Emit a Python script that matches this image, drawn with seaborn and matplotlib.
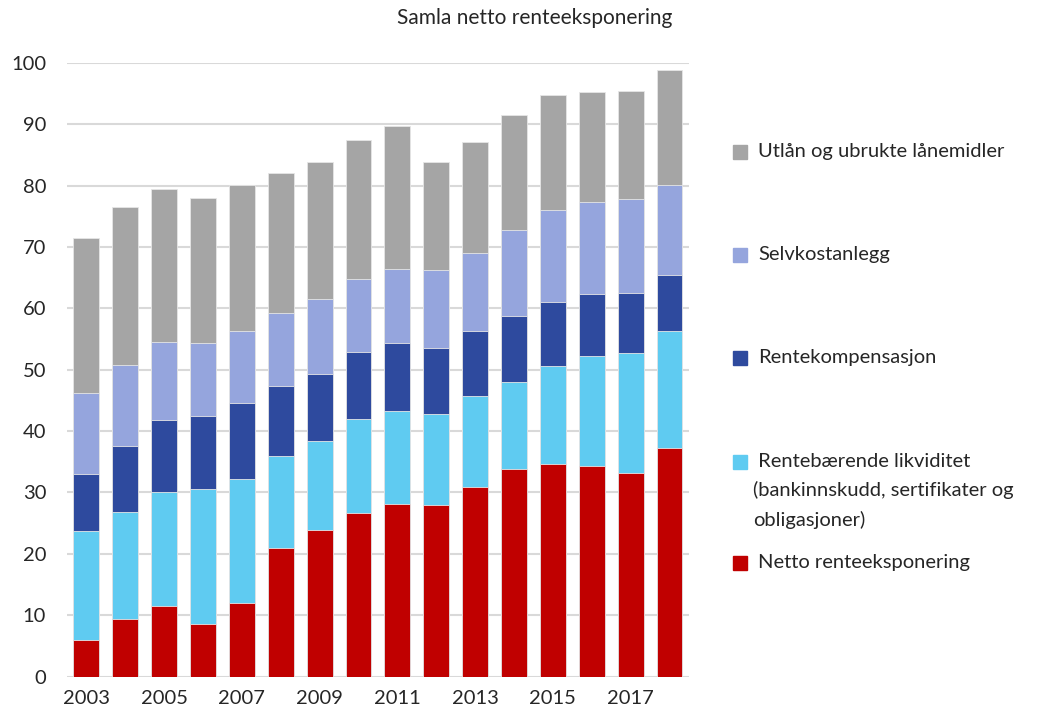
import numpy as np
import pandas as pd
import seaborn as sns
import matplotlib.pyplot as plt
from matplotlib.patches import Rectangle

# Data (values per layer)
years = [str(y) for y in range(2003, 2019)]
netto = [5.9, 9.3, 11.5, 8.6, 12.0, 21.0, 23.9, 26.7, 28.1, 28.0, 30.9, 33.9, 34.7, 34.3, 33.2, 37.2]
likviditet = [17.9, 17.5, 18.5, 21.9, 20.2, 15.0, 14.5, 15.2, 15.2, 14.8, 14.9, 14.1, 15.9, 17.9, 19.6, 19.2]
kompensasjon = [9.2, 10.8, 11.8, 12.0, 12.4, 11.3, 10.9, 11.0, 11.0, 10.7, 10.5, 10.7, 10.4, 10.1, 9.7, 9.1]
selvkost = [13.2, 13.1, 12.7, 11.8, 11.7, 11.9, 12.2, 11.9, 12.2, 12.7, 12.7, 14.1, 15.0, 15.1, 15.3, 14.7]
utlan = [25.3, 25.8, 24.9, 23.7, 23.8, 22.8, 22.4, 22.7, 23.2, 17.6, 18.2, 18.8, 18.8, 17.9, 17.7, 18.6]

labels = [
    "Netto renteeksponering",
    " Rentebærende likviditet\n(bankinnskudd, sertifikater og\nobligasjoner)",
    "Rentekompensasjon",
    "Selvkostanlegg",
    "Utlån og ubrukte lånemidler",
]
colors = ["#C00000", "#5FCBF1", "#2E4A9E", "#95A5DD", "#A5A5A5"]

df = pd.DataFrame({
    "year": years,
    "netto": netto,
    "likviditet": likviditet,
    "kompensasjon": kompensasjon,
    "selvkost": selvkost,
    "utlan": utlan,
})
layers = ["netto", "likviditet", "kompensasjon", "selvkost", "utlan"]
cum = df[layers].cumsum(axis=1)

sns.set_style("white")
plt.rcParams['font.family'] = ['Lato', 'DejaVu Sans']

fig = plt.figure(figsize=(10.47, 7.2), dpi=100)
ax = fig.add_axes([0.064, 0.0604, 0.594, 0.852])

# draw cumulative bars from the top layer down so each one covers the previous
for layer, color in reversed(list(zip(layers, colors))):
    sns.barplot(x=df["year"], y=cum[layer], color=color, saturation=1, width=0.667,
                edgecolor="#E6E6E6", linewidth=0.6, errorbar=None, ax=ax, zorder=3)

ax.set_ylim(0, 100)
ax.set_xlim(-0.5, len(years) - 0.5)
ax.set_yticks(range(0, 101, 10))
ax.set_xticks(range(0, len(years), 2))
ax.set_xticklabels(years[::2])
ax.set_xlabel("")
ax.set_ylabel("")
ax.yaxis.grid(True, color="#D9D9D9", linewidth=1.5, zorder=0)
ax.set_axisbelow(True)
ax.tick_params(axis="y", length=0, pad=15, labelsize=14.5)
ax.tick_params(axis="x", length=0, pad=10, labelsize=14.5)
sns.despine(ax=ax, left=True, bottom=True)

fig.text(0.511, 0.975, "Samla netto renteeksponering", ha="center", va="center", fontsize=15)

# legend drawn by hand (top to bottom, uneven spacing as in the original)
leg_y = [152, 255, 358, 462, 563]
for lab, col, yp in zip(reversed(labels), reversed(colors), leg_y):
    fig.patches.append(Rectangle((733 / 1047, 1 - (yp + 7) / 720), 14 / 1047, 14 / 720,
                                 transform=fig.transFigure, color=col, figure=fig))
    xt = 753 if "\n" in lab else 758
    fig.text(xt / 1047, 1 - (yp - 9) / 720, lab, ha="left", va="top",
             fontsize=14.5, linespacing=1.75)

fig.savefig("out.png", dpi=100)
